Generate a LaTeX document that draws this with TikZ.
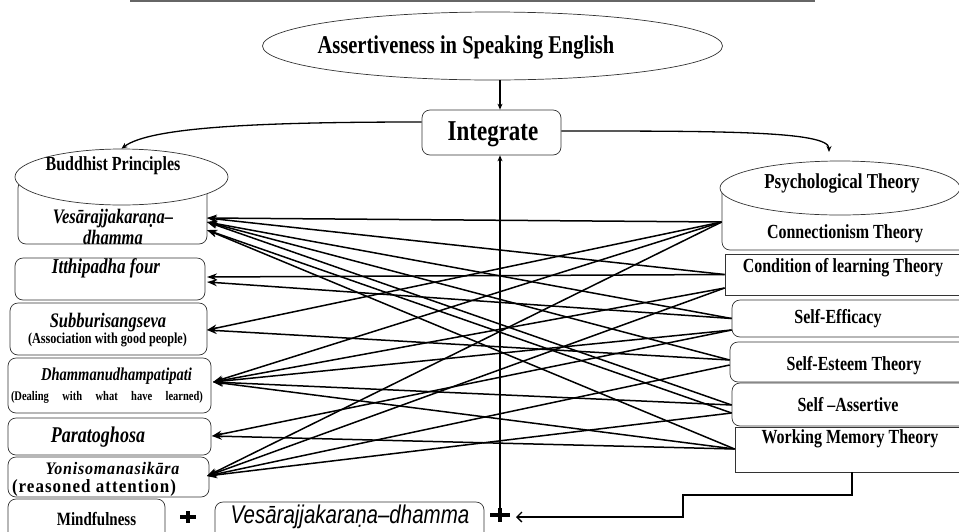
\documentclass[tikz,border=0pt]{standalone}
\usepackage{fontspec}
\usepackage{graphicx}
\setmainfont{Liberation Serif}
\setsansfont{Liberation Sans}
\usetikzlibrary{shapes.geometric,arrows.meta,calc}
\newcommand\vstr[1]{\scalebox{1}[1.25]{#1}}
\begin{document}
\begin{tikzpicture}[x=1pt,y=-1pt,
  bx/.style={draw=black!80, line width=0.7pt, rounded corners=8pt, fill=white, inner sep=0pt},
  sq/.style={draw=black!80, line width=0.7pt, fill=white, inner sep=0pt},
  el/.style={ellipse, draw=black!80, line width=0.7pt, fill=white, inner sep=0pt},
  xar/.style={line width=1.5pt, -{Stealth[length=10pt,width=7pt]}},
  car/.style={line width=1.3pt, -{Stealth[length=6pt,width=5pt]}},
  fs/.style={inner sep=0pt, font=\fontsize{#1}{#1}\selectfont\bfseries},
  fsi/.style={inner sep=0pt, font=\fontsize{#1}{#1}\selectfont\bfseries\itshape},
  plusline/.style={line width=3.5pt},
]
\useasboundingbox (0,0) rectangle (959,531);
\clip (0,0) rectangle (959,531);

% title underline (title itself is cut off)
\draw[black!60, line width=1.5pt] (130,1) -- (815,1);

% top ellipse and Integrate
\node[el, minimum width=460pt, minimum height=68pt] (top) at (492.5,46) {};
\node[fs=20.5] (topt) at (466,47) {\vstr{Assertiveness in Speaking English}};
\node[bx, minimum width=139pt, minimum height=45pt] (integ) at (491.5,132.5) {};
\node[fs=23] (integt) at (493,134) {\vstr{Integrate}};

% left column
\node[bx, minimum width=189pt, minimum height=64pt] (vesL) at (112.5,212) {};
\node[el, minimum width=213pt, minimum height=56pt] (bud) at (121.5,177) {};
\node[fs=16] (budt) at (113,166) {\vstr{Buddhist Principles}};
\node[fsi=16.5] (vesL1) at (113,218.5) {\vstr{Vesārajjakaraṇa–}};
\node[fsi=16.5] (vesL2) at (113,237) {\vstr{dhamma}};
\node[bx, minimum width=190pt, minimum height=42pt] (itt) at (110,279) {};
\node[fsi=17] (ittt) at (106,268) {\vstr{Itthipadha four}};
\node[bx, minimum width=197pt, minimum height=52pt] (sub) at (108.5,329) {};
\node[fsi=16.5] (subt) at (108,322.5) {\vstr{Subburisangseva}};
\node[fs=12.2] (subt2) at (107.5,339.5) {\vstr{(Association with good people)}};
\node[bx, minimum width=203pt, minimum height=55pt] (dham) at (109.5,385.5) {};
\node[fsi=14.5] (dhamt) at (116.5,376) {\vstr{Dhammanudhampatipati}};
\node[fs=10.5] (dhamt2) at (107,397) {\vstr{\makebox[192pt][s]{(Dealing with what have learned)}}};
\node[bx, minimum width=203pt, minimum height=37pt] (para) at (109.5,436.5) {};
\node[fsi=18] (parat) at (98,437) {\vstr{Paratoghosa}};
\node[bx, minimum width=201pt, minimum height=40pt] (yon) at (108.5,477) {};
\node[fsi=16] (yont) at (112.5,468.5) {\scalebox{1}[1.1]{\addfontfeature{LetterSpace=5}Yonisomanasikāra}};
\node[fs=17] (yont2) at (94,488) {\scalebox{1}[1.1]{\addfontfeature{LetterSpace=6}(reasoned attention)}};
\node[bx, minimum width=157pt, minimum height=46pt] (mind) at (86.5,522) {};
\node[fs=15] (mindt) at (96.5,519) {\vstr{Mindfulness}};
\node[bx, minimum width=269pt, minimum height=43pt] (ves2) at (349.5,523.5) {};
\node[inner sep=0pt, font=\sffamily\itshape\fontsize{20.5}{20.5}\selectfont] (ves2t) at (350,517) {\vstr{Vesārajjakaraṇa–dhamma}};

% plus signs
\coordinate (plus1) at (188,517);
\draw[plusline] ($(plus1)+(-8,0)$) -- ($(plus1)+(8,0)$);
\draw[plusline] ($(plus1)+(0,-6)$) -- ($(plus1)+(0,6)$);
\coordinate (plus2) at (500,515);
\draw[plusline] ($(plus2)+(-10,0)$) -- ($(plus2)+(10,0)$);
\draw[plusline] ($(plus2)+(0,-7)$) -- ($(plus2)+(0,7)$);

% right column
\node[bx, minimum width=253pt, minimum height=65pt] (conn) at (848.5,217.5) {};
\node[el, minimum width=240pt, minimum height=54pt] (psy) at (840,188) {};
\node[fs=17] (psyt) at (842,183) {\vstr{Psychological Theory}};
\node[fs=16] (connt) at (845,234) {\vstr{Connectionism Theory}};
\node[sq, minimum width=250pt, minimum height=41pt] (cond) at (850,274.5) {};
\node[fs=16] (condt) at (843,268) {\vstr{Condition of learning Theory}};
\node[bx, minimum width=243pt, minimum height=37pt] (eff) at (853.5,318.5) {};
\node[fs=16] (efft) at (838,319) {\vstr{Self-Efficacy}};
\node[bx, minimum width=245pt, minimum height=40pt] (est) at (852.5,362) {};
\node[fs=16] (estt) at (854,366) {\vstr{Self-Esteem Theory}};
\node[bx, minimum width=243pt, minimum height=43pt] (ass) at (853.5,404.5) {};
\node[fs=16] (asst) at (848,405) {\vstr{Self –Assertive}};
\node[sq, minimum width=240pt, minimum height=45pt] (wm) at (855,449.5) {};
\node[fs=16] (wmt) at (850,439) {\vstr{Working Memory Theory}};

% top connectors
\coordinate (vx) at (500,0);
\coordinate (lc) at (0,122);
\coordinate (rc) at (0,131);
\coordinate (rtip) at (829,152);
\draw[car] (top.south -| vx) -- (integ.north -| vx);
\draw[car] (integ.west |- lc) .. controls (260,122) and (150,127) .. (bud.north);
\draw[car] (integ.east |- rc) .. controls (720,131) and (829,131) .. (rtip);
\draw[car] (plus2) -- (integ.south -| vx);

% working memory return arrow
\coordinate (wx) at (852,0);
\coordinate (j1) at (683,495);
\coordinate (pe) at (516,517);
\draw[line width=1.3pt, -{Straight Barb[length=5pt,width=10pt]}] (wm.south -| wx) |- (j1) |- (pe);

% sources (right) and targets (left)
\coordinate (sC) at ($(conn.west)+(0,4.5)$);
\coordinate (sK1) at ($(cond.west)+(0,0)$);
\coordinate (sK2) at ($(cond.west)+(0,13.5)$);
\coordinate (sE1) at ($(eff.west)+(0,0)$);
\coordinate (sE2) at ($(eff.west)+(0,11.5)$);
\coordinate (sS1) at ($(est.west)+(0,-2)$);
\coordinate (sS2) at ($(est.west)+(0,3)$);
\coordinate (sA1) at ($(ass.west)+(0,0.5)$);
\coordinate (sA2) at ($(ass.west)+(0,8.5)$);
\coordinate (sW) at ($(wm.west)+(0,-0.5)$);
\coordinate (tV1) at (207,218);
\coordinate (tV2) at (207,222);
\coordinate (tV3) at (207,230);
\coordinate (tI1) at (207,277);
\coordinate (tI2) at (207,282);
\coordinate (tS) at (207,330);
\coordinate (tD) at (213,382);
\coordinate (tP) at (212,436);
\coordinate (tY) at (207,476);

\draw[xar] (sC) -- (tV1);
\draw[xar] (sC) -- (tS);
\draw[xar] (sC) -- (tD);
\draw[xar] (sC) -- (tY);
\draw[xar] (sK1) -- (tI1);
\draw[xar] (sK1) -- (tV1);
\draw[xar] (sK2) -- (tY);
\draw[xar] (sK2) -- (tD);
\draw[xar] (sE1) -- (tV2);
\draw[xar] (sE1) -- (tI2);
\draw[xar] (sE2) -- (tD);
\draw[xar] (sE2) -- (tP);
\draw[xar] (sS1) -- (tV2);
\draw[xar] (sS1) -- (tS);
\draw[xar] (sS2) -- (tY);
\draw[xar] (sA1) -- (tV2);
\draw[xar] (sA1) -- (tD);
\draw[xar] (sA2) -- (tY);
\draw[xar] (sA2) -- (tV3);
\draw[xar] (sW) -- (tV3);
\draw[xar] (sW) -- (tD);
\draw[xar] (sW) -- (tP);
\end{tikzpicture}
\end{document}
